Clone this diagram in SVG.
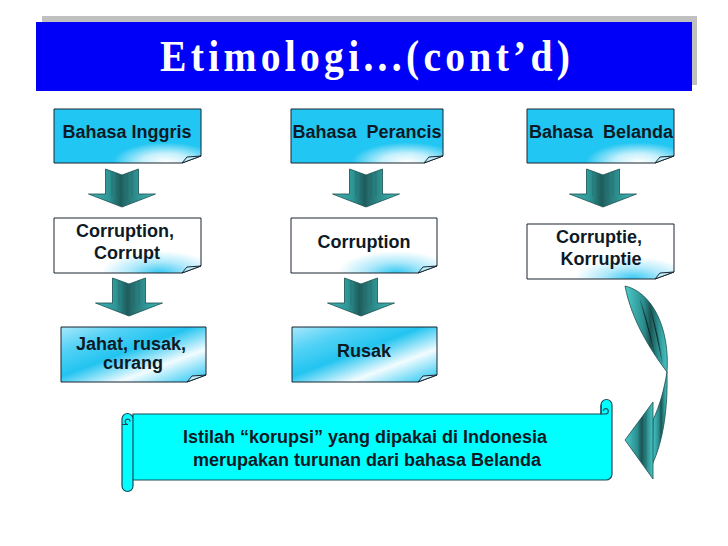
<svg xmlns="http://www.w3.org/2000/svg" width="728" height="546" viewBox="0 0 728 546">
<style>
.lbl{font-family:"Liberation Sans",Arial,sans-serif;font-weight:bold;font-size:18px;fill:#0d1a26;text-anchor:middle}
.box{stroke:#1a2530;stroke-width:1}
.flap{fill:#bff0fc;stroke:#1a2530;stroke-width:1}
.arr{stroke:#1c4f4f;stroke-width:0.8}
.stripe{stroke:#1f6464;stroke-width:0.7;opacity:0.7}
</style>
<defs>
<radialGradient id="g1" cx="0.76" cy="0.98" r="0.36">
<stop offset="0" stop-color="#ffffff"/><stop offset="0.45" stop-color="#c4f0fc"/><stop offset="1" stop-color="#22c6f2"/>
</radialGradient>
<radialGradient id="g2" cx="0.72" cy="1" r="0.4">
<stop offset="0" stop-color="#33c8f2"/><stop offset="0.5" stop-color="#aee9fb"/><stop offset="1" stop-color="#ffffff"/>
</radialGradient>
<linearGradient id="g3" x1="0" y1="0" x2="1" y2="1">
<stop offset="0" stop-color="#a8e8fa"/><stop offset="0.22" stop-color="#55d2f6"/><stop offset="0.45" stop-color="#22c4f0"/><stop offset="0.7" stop-color="#f2fcff"/><stop offset="0.9" stop-color="#62d6f6"/><stop offset="1" stop-color="#30c8f0"/>
</linearGradient>
<linearGradient id="ga" x1="0" y1="0" x2="1" y2="0">
<stop offset="0" stop-color="#40b4b4"/><stop offset="0.3" stop-color="#2e9696"/><stop offset="0.48" stop-color="#1e5c5c"/><stop offset="0.55" stop-color="#266f6f"/><stop offset="0.8" stop-color="#32a0a0"/><stop offset="1" stop-color="#44baba"/>
</linearGradient>
<linearGradient id="gc" x1="0" y1="0" x2="1" y2="0">
<stop offset="0" stop-color="#4ccccc"/><stop offset="0.45" stop-color="#2a8c8c"/><stop offset="0.6" stop-color="#1c5454"/><stop offset="0.8" stop-color="#2e9494"/><stop offset="1" stop-color="#48c4c4"/>
</linearGradient>
<g id="arrow">
<path class="arr" fill="url(#ga)" d="M-16.5,0 L0,6 L16.5,0 V25 H33.5 L0,38 L-33.5,25 H-16.5 Z"/>
<path class="stripe" d="M-10,2 V27 M-5,4 V30 M0,6 V37 M5,4 V30 M10,2 V27"/>
</g>
</defs>

<g id="title">
<rect x="42" y="16" width="655" height="69" fill="#c0c0c0"/>
<rect x="36" y="22" width="656" height="69" fill="#0000f8"/>
<text transform="translate(160,71) scale(0.88,1)" x="0" y="0" textLength="466" lengthAdjust="spacing" font-family="'Liberation Serif','Times New Roman',serif" font-weight="bold" font-size="45" fill="#ffffff">Etimologi...(cont’d)</text>
</g>

<g id="box-inggris">
<path class="box" fill="url(#g1)" d="M54,109 H201 V156 L182,163 H54 Z"/>
<path class="flap" d="M182,163 L201,156 L187,157 Z"/>
<text class="lbl" x="127" y="138">Bahasa Inggris</text>
</g>
<g id="box-perancis">
<path class="box" fill="url(#g1)" d="M291,109 H443 V156 L424,163 H291 Z"/>
<path class="flap" d="M424,163 L443,156 L429,157 Z"/>
<text class="lbl" x="367" y="138" xml:space="preserve">Bahasa  Perancis</text>
</g>
<g id="box-belanda">
<path class="box" fill="url(#g1)" d="M527,109 H674 V156 L655,163 H527 Z"/>
<path class="flap" d="M655,163 L674,156 L660,157 Z"/>
<text class="lbl" x="601" y="138" xml:space="preserve">Bahasa  Belanda</text>
</g>

<g id="box-corruption-corrupt">
<path class="box" fill="url(#g2)" d="M54,218 H201 V266 L182,273 H54 Z"/>
<path class="flap" d="M182,273 L201,266 L187,267 Z"/>
<text class="lbl" x="125" y="237">Corruption,</text>
<text class="lbl" x="127" y="259">Corrupt</text>
</g>
<g id="box-corruption">
<path class="box" fill="url(#g2)" d="M291,218 H437 V266 L418,273 H291 Z"/>
<path class="flap" d="M418,273 L437,266 L423,267 Z"/>
<text class="lbl" x="364" y="248">Corruption</text>
</g>
<g id="box-corruptie">
<path class="box" fill="url(#g2)" d="M527,224 H674 V272 L655,279 H527 Z"/>
<path class="flap" d="M655,279 L674,272 L660,273 Z"/>
<text class="lbl" x="599" y="243">Corruptie,</text>
<text class="lbl" x="601" y="265">Korruptie</text>
</g>

<g id="box-jahat">
<path class="box" fill="url(#g3)" d="M61,327 H206 V375 L187,382 H61 Z"/>
<path class="flap" d="M187,382 L206,375 L192,376 Z"/>
<text class="lbl" x="131" y="350">Jahat, rusak,</text>
<text class="lbl" x="133" y="369">curang</text>
</g>
<g id="box-rusak">
<path class="box" fill="url(#g3)" d="M292,327 H437 V375 L418,382 H292 Z"/>
<path class="flap" d="M418,382 L437,375 L423,376 Z"/>
<text class="lbl" x="364" y="357">Rusak</text>
</g>

<g id="scroll">
<path fill="#00ffff" stroke="#1a4a5a" stroke-width="1.2" d="M133,414 H601 V405 A5.5,5.5 0 0 1 612,405 V474 A6,6 0 0 1 606,480 H133 V486 A5.5,5.5 0 0 1 122,486 V419 A5.5,5.5 0 0 1 133,419 Z"/>
<path fill="none" stroke="#1a4a5a" stroke-width="1.2" d="M133,419 V480 M601,405 V414 H606 A2.8,2.8 0 0 0 606,408.5 A2.5,2.5 0 0 0 603.5,411 M127.5,424.5 A2.8,2.8 0 0 1 127.5,419 A2.5,2.5 0 0 1 130,421.5 M122,424.5 H128"/>
<text class="lbl" x="365" y="443">Istilah “korupsi” yang dipakai di Indonesia</text>
<text class="lbl" x="367" y="466">merupakan turunan dari bahasa Belanda</text>
</g>

<g id="connectors">
<use href="#arrow" x="122" y="169"/>
<use href="#arrow" x="366" y="169"/>
<use href="#arrow" x="603" y="169"/>
<use href="#arrow" x="129" y="278"/>
<use href="#arrow" x="361" y="278"/>
<g id="curved-arrow">
<path class="arr" fill="url(#gc)" d="M625,286 C652,292 670,328 667,372 C652,352 632,322 625,286 Z"/>
<path class="stripe" d="M640,300 C648,320 652,340 655,355 M650,306 C656,325 660,345 662,362"/>
<path class="arr" fill="url(#gc)" d="M667,372 C668,405 664,440 652,465 L653,420 C660,405 664,390 667,372 Z"/>
<path class="arr" fill="url(#gc)" d="M625,440 L653,402 L653,479 Z"/>
<path class="stripe" d="M640,420 V460 M646,412 V468"/>
</g>
</g>
</svg>
